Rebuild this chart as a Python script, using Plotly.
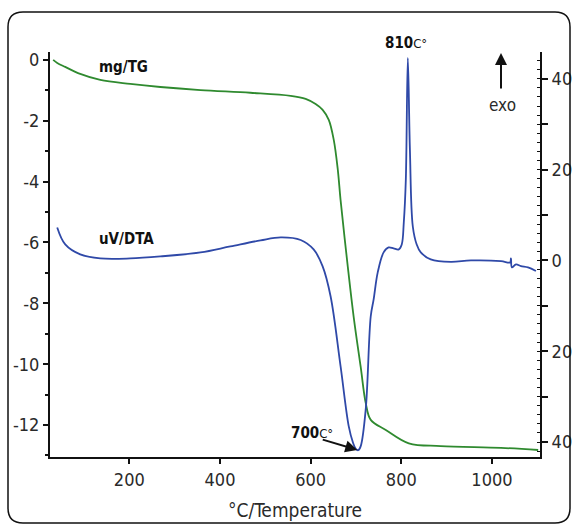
import plotly.graph_objects as go

# Temperature (°C) and TG mass change (mg)
tg_temp = [32, 41, 58.6, 91.7, 136, 202, 268.5, 357, 467, 556, 589, 611, 626.5, 640, 651, 660,
           666, 682, 695, 710.5, 721.6, 732.6, 765.8, 816.6, 887, 1020, 1102]
tg_mass = [0, -0.1, -0.23, -0.46, -0.66, -0.79, -0.89, -0.99, -1.08, -1.18, -1.28, -1.45, -1.64,
           -1.97, -2.63, -3.62, -4.6, -6.8, -8.45, -10.1, -11.28, -11.83, -12.16, -12.6, -12.69,
           -12.75, -12.82]

# Temperature (°C) and DTA signal (uV)
dta_temp = [40.9, 58.6, 91.7, 135.9, 202, 268.5, 357, 423, 489.5, 534, 578, 606.6, 626.5, 644,
            666, 684, 693, 699.5, 705, 710.5, 721.6, 732.6, 739, 748, 761, 772, 783, 794.5, 801,
            805.5, 810, 814.4, 819, 825.4, 834, 843, 865, 909.4, 953.6, 1020, 1040, 1042, 1044,
            1053, 1064, 1079.6, 1097]
dta_signal = [7.25, 3.52, 1.32, 0.44, 0.44, 0.88, 1.76, 3.08, 4.4, 5.06, 4.5, 2.42, -1.32, -7.9,
              -23.3, -36.5, -40, -41.5, -41.8, -40.9, -32.7, -12.3, -8.6, -2.64, 1.76, 2.86, 2.64,
              2.42, 3.5, 8.35, 17.8, 44.6, 24.4, 7.47, 3.5, 1.76, 0.22, -0.33, 0, -0.15, -0.44,
              0.44, -1.54, -0.88, -1.25, -1.54, -2.35]

x_ticks = [200, 400, 600, 800, 1000]
left_ticks = [0, -2, -4, -6, -8, -10, -12]
left_labels = ["0", "-2", "-4", "-6", "-8", "-10", "-12"]
right_ticks = [-40, -30, -20, -10, 0, 10, 20, 30, 40]
right_labels = ["40", "", "20", "", "0", "", "20", "", "40"]

FONT = "DejaVu Sans Condensed, Liberation Sans Narrow, Liberation Sans, Arial, sans-serif"
W, H = 575, 527
ML, MR, MT, MB = 50, 35, 52, 70
PW, PH = W - ML - MR, H - MT - MB

def px(x):
    return (x - ML) / PW

def py(y):
    return (H - MB - y) / PH

fig = go.Figure()
fig.add_trace(go.Scatter(x=tg_temp, y=tg_mass, mode="lines", line=dict(color="#2f8a2f", width=1.8),
                         line_shape="spline", name="mg/TG", yaxis="y"))
fig.add_trace(go.Scatter(x=dta_temp, y=dta_signal, mode="lines", line=dict(color="#2f49a8", width=1.8),
                         line_shape="spline", name="uV/DTA", yaxis="y2"))

axis_common = dict(showgrid=False, zeroline=False, showline=True, linecolor="#111", linewidth=2,
                   tickcolor="#111", tickwidth=2, ticks="outside", automargin=False,
                   tickfont=dict(family=FONT, size=18, color="#2a2a2a"))

fig.update_layout(
    width=W, height=H, margin=dict(l=ML, r=MR, t=MT, b=MB),
    paper_bgcolor="white", plot_bgcolor="white", showlegend=False,
    xaxis=dict(range=[25, 1106], tickvals=x_ticks, ticklen=5,
               title=dict(text="°C/Temperature", font=dict(family=FONT, size=19, color="#2a2a2a"),
                          standoff=15),
               **axis_common),
    yaxis=dict(range=[-13.05, 0.26], tickvals=left_ticks, ticktext=left_labels, ticklen=5,
               minor=dict(dtick=1, ticks="outside", ticklen=3, tickcolor="#111", tickwidth=2),
               **axis_common),
    yaxis2=dict(range=[-43.3, 45.9], overlaying="y", side="right", anchor="x",
                tickvals=right_ticks, ticktext=right_labels, ticklen=6,
                minor=dict(dtick=2, ticks="inside", ticklen=3, tickcolor="#111", tickwidth=1),
                **axis_common),
)

# rounded frame around whole chart
x0, x1, y0, y1, r = px(8), px(570), py(523), py(12), 15
rx, ry = r / PW, r / PH
path = (f"M {x0+rx},{y1} L {x1-rx},{y1} Q {x1},{y1} {x1},{y1-ry} L {x1},{y0+ry} "
        f"Q {x1},{y0} {x1-rx},{y0} L {x0+rx},{y0} Q {x0},{y0} {x0},{y0+ry} "
        f"L {x0},{y1-ry} Q {x0},{y1} {x0+rx},{y1} Z")
fig.add_shape(type="path", path=path, xref="paper", yref="paper",
              line=dict(color="#111", width=1.5))

ann_font = dict(family=FONT, size=15, color="#111")
center = dict(xref="paper", yref="paper", xanchor="center", yanchor="middle", showarrow=False)
fig.add_annotation(x=px(123), y=py(67), text="<b>mg/TG</b>", font=ann_font, **center)
fig.add_annotation(x=px(126), y=py(239), text="<b>uV/DTA</b>", font=ann_font, **center)
fig.add_annotation(x=px(406), y=py(43), text="<b>810</b><span style='font-size:13px'>C°</span>",
                   font=ann_font, **center)
fig.add_annotation(x=px(312), y=py(433), text="<b>700</b><span style='font-size:13px'>C°</span>",
                   font=ann_font, **center)
fig.add_annotation(x=px(502), y=py(105), text="exo",
                   font=dict(family=FONT, size=17, color="#2a2a2a"), **center)
fig.add_annotation(x=705, y=-41.8, xref="x", yref="y2", ax=-37, ay=-11,
                   showarrow=True, arrowhead=2, arrowsize=1.2, arrowwidth=2, arrowcolor="#111",
                   text="", standoff=1)
fig.add_annotation(x=px(501), y=py(53), xref="paper", yref="paper", ax=0, ay=37,
                   showarrow=True, arrowhead=2, arrowsize=1.2, arrowwidth=2, arrowcolor="#111", text="")

fig.write_html("out.html", config={"displayModeBar": False},
               post_script="document.body.style.margin='0';document.body.style.overflow='hidden';")
